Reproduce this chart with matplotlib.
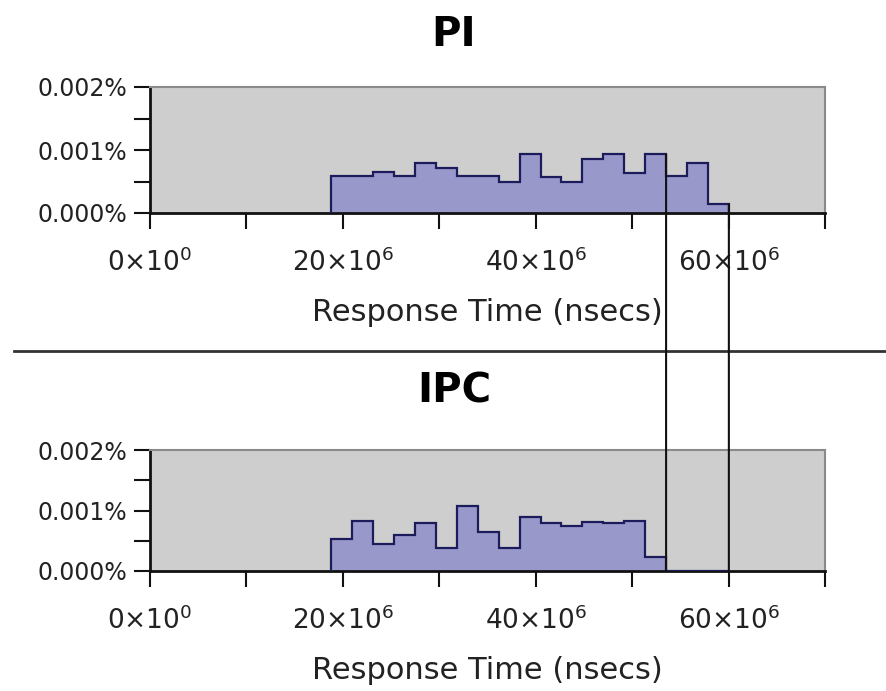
import matplotlib
matplotlib.use("Agg")
import matplotlib.pyplot as plt
from matplotlib.patches import ConnectionPatch
from matplotlib.lines import Line2D

# bin edges (ns) and bar heights (%)
bin_edges = [18.80e6, 20.97e6, 23.14e6, 25.31e6, 27.48e6, 29.65e6, 31.82e6,
             33.99e6, 36.16e6, 38.33e6, 40.50e6, 42.67e6, 44.84e6, 47.01e6,
             49.18e6, 51.35e6, 53.52e6, 55.69e6, 57.86e6, 60.03e6]
pi_pct = [0.00059, 0.00059, 0.00065, 0.00059, 0.00080, 0.00071, 0.00059,
          0.00059, 0.00050, 0.00093, 0.00057, 0.00050, 0.00086, 0.00093,
          0.00063, 0.00093, 0.00059, 0.00079, 0.00014]
ipc_pct = [0.00053, 0.00082, 0.00045, 0.00060, 0.00079, 0.00038, 0.00107,
           0.00064, 0.00038, 0.00089, 0.00079, 0.00074, 0.00081, 0.00079,
           0.00082, 0.00023, 0.0, 0.0, 0.0]
panels = ["PI", "IPC"]
# edges of the highlighted range (linked between the two panels)
mark_idx = [16, 19]

x_major = [0, 20e6, 40e6, 60e6]
x_minor = [10e6, 30e6, 50e6, 70e6]
x_labels = [r"$0{\times}10^{0}$", r"$20{\times}10^{6}$",
            r"$40{\times}10^{6}$", r"$60{\times}10^{6}$"]
y_major = [0, 0.001, 0.002]
y_minor = [0.0005, 0.0015]
y_labels = ["0.000%", "0.001%", "0.002%"]

W, H = 886, 691
fig = plt.figure(figsize=(W / 100, H / 100), dpi=100)

boxes = [(150, 87, 825, 213), (150, 450, 825, 571)]
title_y = [35, 392]
axes = []
for (l, t, r, b), name, vals, ty in zip(boxes, panels, [pi_pct, ipc_pct], title_y):
    ax = fig.add_axes([l / W, 1 - b / H, (r - l) / W, (b - t) / H])
    ax.set_facecolor("#cecece")
    ax.stairs(vals, bin_edges, fill=True, color="#9898cb", zorder=2)
    ax.stairs(vals, bin_edges, baseline=0, color="#1c1c5c", lw=1.6, zorder=3)
    ax.set_xlim(0, 70e6)
    ax.set_ylim(0, 0.002)
    ax.set_xticks(x_major)
    ax.set_xticklabels(x_labels, fontsize=19, color="#222222")
    ax.set_xticks(x_minor, minor=True)
    ax.set_yticks(y_major)
    ax.set_yticklabels(y_labels, fontsize=17, color="#222222")
    ax.set_yticks(y_minor, minor=True)
    ax.tick_params(which="both", direction="out", length=11.5, width=1.5, color="#111111")
    ax.tick_params(axis="y", pad=5)
    ax.tick_params(axis="x", pad=14)
    for s in ["top", "right"]:
        ax.spines[s].set_color("#8a8a8a")
        ax.spines[s].set_linewidth(1.5)
    for s in ["left", "bottom"]:
        ax.spines[s].set_color("#111111")
        ax.spines[s].set_linewidth(2)
    ax.set_xlabel("Response Time (nsecs)", fontsize=22, color="#222222", labelpad=15)
    fig.text(454 / W, 1 - ty / H, name, fontsize=29, fontweight="bold",
             ha="center", va="center")
    axes.append(ax)

# separator between the two panels
fig.add_artist(Line2D([14 / W, 1], [1 - 351 / H] * 2, color="#333333", lw=2))

# lines linking the marked range across the panels
for i in mark_idx:
    x = bin_edges[i]
    top = max(pi_pct[i - 1], pi_pct[i]) if i < len(pi_pct) else pi_pct[i - 1]
    con = ConnectionPatch(xyA=(x, top), coordsA=axes[0].transData,
                          xyB=(x, 0), coordsB=axes[1].transData,
                          color="#111111", lw=1.5, zorder=10)
    fig.add_artist(con)

fig.savefig("out.png", dpi=100)
